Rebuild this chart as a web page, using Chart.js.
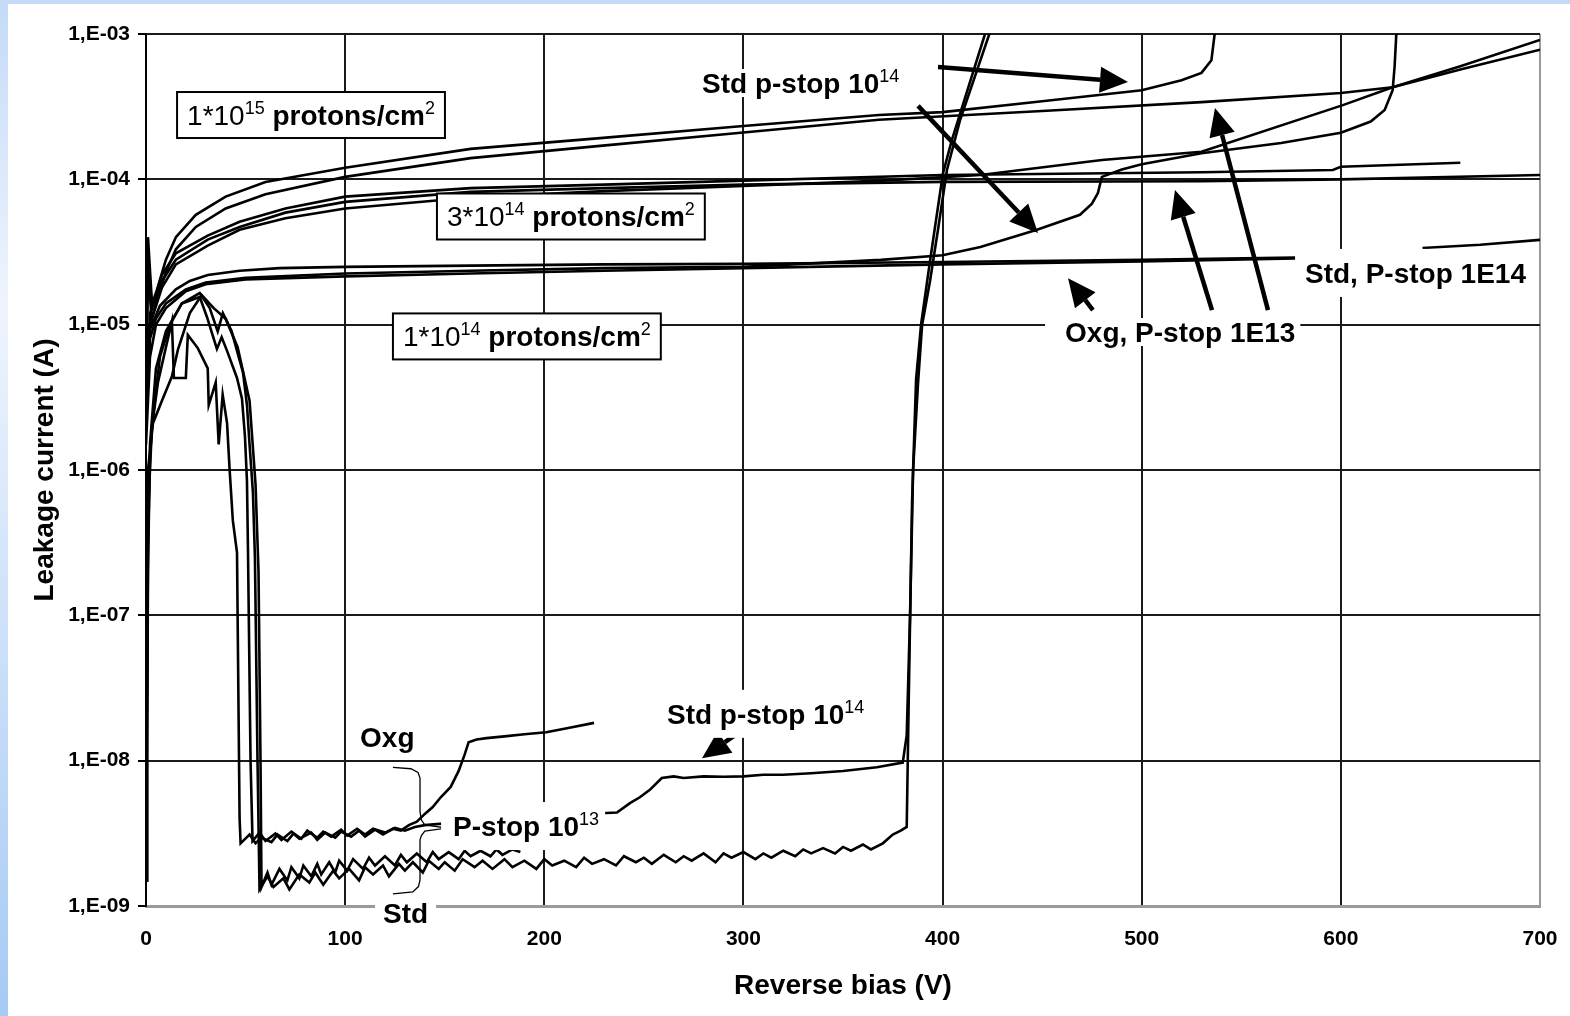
<!DOCTYPE html>
<html>
<head>
<meta charset="utf-8">
<script src="https://cdn.jsdelivr.net/npm/chart.js@4.4.0/dist/chart.umd.min.js"></script>
<style>
  html, body { margin: 0; padding: 0; background: #fff; }
  #wrap { width: 1570px; height: 1016px; }
</style>
</head>
<body>
<div id="wrap"><canvas id="ivChart" width="1570" height="1016"></canvas></div>
<script>
// leakage current vs reverse bias, points are [bias V, current A]

const decadeTicks = [1e-9, 1e-8, 1e-7, 1e-6, 1e-5, 1e-4, 1e-3];

// 1e15 protons/cm2
const f15std14 = [[0,5e-6],[1,4e-5],[3,1.4e-5],[5,1.65e-5],[10,2.8e-5],[15,4e-5],[25,5.7e-5],[40,7.6e-5],[60,9.6e-5],[100,1.2e-4],[163,1.62e-4],[228,1.92e-4],[300,2.33e-4],[368,2.77e-4],[400,2.9e-4],[450,3.45e-4],[500,4.1e-4],[520,4.8e-4],[530,5.4e-4],[535,6.6e-4],[537,1.1e-3]];
const f15other = [[0,3e-6],[2,1e-5],[5,1.4e-5],[10,2.3e-5],[15,3.3e-5],[25,4.7e-5],[40,6.3e-5],[60,7.9e-5],[100,1.04e-4],[163,1.4e-4],[228,1.7e-4],[300,2.1e-4],[368,2.57e-4],[450,2.95e-4],[530,3.4e-4],[600,3.93e-4],[626,4.3e-4],[660,5.7e-4],[700,7.8e-4]];

// 3e14 protons/cm2
const f3oxg = [[0,4e-6],[1,3e-5],[3,1.3e-5],[8,2.2e-5],[15,3.1e-5],[31,4.1e-5],[47,5.1e-5],[70,6.3e-5],[100,7.6e-5],[163,8.7e-5],[230,9.2e-5],[300,9.8e-5],[400,1.07e-4],[530,1.12e-4],[596,1.16e-4],[600,1.22e-4],[660,1.3e-4]];
const f3flat = [[0,2e-6],[2,1.2e-5],[8,2e-5],[15,2.8e-5],[31,3.85e-5],[47,4.7e-5],[70,5.9e-5],[100,7.0e-5],[163,8.2e-5],[230,8.7e-5],[300,9.2e-5],[400,9.6e-5],[530,9.7e-5],[600,1.0e-4],[700,1.07e-4]];
const f3rise = [[0,3e-6],[2,1e-5],[8,1.8e-5],[15,2.6e-5],[31,3.5e-5],[47,4.5e-5],[70,5.4e-5],[100,6.3e-5],[163,7.5e-5],[230,8.3e-5],[300,9.0e-5],[370,9.8e-5],[419,1.07e-4],[480,1.36e-4],[530,1.55e-4],[601,3.24e-4],[626,4.3e-4],[660,6.0e-4],[700,9.1e-4]];

// 1e14 protons/cm2
const f1oxgA = [[0,3e-6],[1,2.5e-5],[3,1e-5],[7,1.35e-5],[15,1.75e-5],[22,2.0e-5],[31,2.2e-5],[47,2.35e-5],[67,2.45e-5],[100,2.5e-5],[163,2.55e-5],[230,2.6e-5],[300,2.62e-5],[400,2.7e-5],[500,2.8e-5],[577,2.9e-5]];
const f1oxgB = [[0,1.5e-6],[2,6e-6],[5,1e-5],[10,1.3e-5],[20,1.7e-5],[30,1.9e-5],[50,2.05e-5],[100,2.15e-5],[163,2.25e-5],[230,2.35e-5],[300,2.45e-5],[400,2.6e-5],[500,2.72e-5],[577,2.85e-5]];
const f1std14 = [[0,2e-6],[2,8e-6],[5,1.1e-5],[10,1.4e-5],[20,1.75e-5],[30,1.95e-5],[50,2.1e-5],[100,2.25e-5],[163,2.35e-5],[230,2.45e-5],[300,2.5e-5],[369,2.79e-5],[400,3.0e-5],[419,3.42e-5],[447,4.48e-5],[469,5.7e-5],[475,6.8e-5],[478,8.05e-5],[480,1.04e-4],[490,1.17e-4],[500,1.27e-4],[530,1.51e-4],[570,1.78e-4],[600,2.09e-4],[615,2.5e-4],[622,3.0e-4],[626,4.1e-4],[627,6e-4],[628,1.1e-3]];
const f1stdTail = [[641,3.37e-5],[670,3.55e-5],[700,3.83e-5]];

// non irradiated
const oxgP13 = [[0,1.5e-9],[0.5,2e-8],[1,3e-7],[2,1.2e-6],[3,2e-6],[6,4e-6],[10,7e-6],[13,1.05e-5],[14,4.3e-6],[20,4.3e-6],[21,8.5e-6],[26,6.9e-6],[31,5e-6],[31.5,2.8e-6],[35,4e-6],[36.5,1.5e-6],[38.5,3.3e-6],[40.7,2.1e-6],[42,1e-6],[43.6,4.5e-7],[45.7,2.7e-7],[46.5,2e-8],[47,4e-9],[47.5,2.7e-9],
  [52,3.1e-9],[55,2.7e-9],[58,2.95e-9],[63,2.75e-9],[66,3.1e-9],[71,2.8e-9],[74,3.15e-9],[77,2.9e-9],[83,3.2e-9],[86,2.85e-9],[90,3.2e-9],[95,2.95e-9],[98,3.25e-9],[103,3.0e-9],[107,3.3e-9],[110,3.0e-9],[115,3.35e-9],[119,3.1e-9],[124,3.4e-9],[128,3.3e-9],[132,3.6e-9],[136,3.8e-9],
  [140,4.3e-9],[144,4.8e-9],[148,5.6e-9],[153,6.6e-9],[157,8.5e-9],[160,1.1e-8],[162,1.34e-8],[166,1.4e-8],[171,1.43e-8],[180,1.47e-8],[190,1.52e-8],[201,1.57e-8],[212,1.68e-8],[225,1.82e-8]];
const stdP14 = [[0,1.5e-9],[0.5,3e-8],[1,5e-7],[3,2e-6],[7,6e-6],[12,1e-5],[18,1.4e-5],[27,1.55e-5],[30.6,1.13e-5],[35.6,6.8e-6],[38,8.2e-6],[40.7,6.6e-6],[45.7,4.3e-6],[48.2,3.1e-6],[49.7,1.7e-6],[50.7,8.4e-7],[51.2,2.9e-7],[52.5,1e-8],[53.5,2.8e-9],
  [57,3.2e-9],[60,2.8e-9],[65,3.15e-9],[68,2.85e-9],[73,3.25e-9],[78,2.9e-9],[81,3.3e-9],[86,2.95e-9],[89,3.25e-9],[93,3.0e-9],[98,3.35e-9],[101,3.05e-9],[106,3.4e-9],[110,3.1e-9],[114,3.4e-9],[120,3.2e-9],[125,3.45e-9],[130,3.3e-9],[135,3.5e-9],[140,3.6e-9],
  [160,3.8e-9],[180,4.0e-9],[200,4.1e-9],[220,4.3e-9],[236.5,4.4e-9],[243,5.1e-9],[248,5.6e-9],[253,6.3e-9],[259,7.6e-9],[265,7.8e-9],[270,7.6e-9],[280,7.8e-9],[290,7.75e-9],[300,7.8e-9],[310,8.0e-9],[320,8.0e-9],[334,8.2e-9],[350,8.5e-9],[367,9.0e-9],[380,9.7e-9],
  [382,1.5e-8],[383.7,1.04e-7],[385.2,1e-6],[387.7,4e-6],[389.7,9.9e-6],[393.7,2.0e-5],[397.7,4.5e-5],[402.2,1.16e-4],[408.8,2.56e-4],[423.8,1.03e-3]];
const stdP13 = [[0,1.5e-9],[0.5,1e-8],[1,2e-7],[2,1.5e-6],[5,5e-6],[10,9e-6],[18,1.4e-5],[27,1.65e-5],[32,1.3e-5],[36,9e-6],[38.6,1.2e-5],[43,9e-6],[48.7,4.7e-6],[50.7,2.8e-6],[52,1.5e-6],[53.7,7e-7],[54.7,2.5e-7],[56,1e-8],[57,1.3e-9],
  [61,1.6e-9],[64,1.35e-9],[69,1.55e-9],[72,1.3e-9],[77,1.65e-9],[82,1.45e-9],[85,1.7e-9],[89,1.4e-9],[94,1.75e-9],[97,1.55e-9],[102,1.8e-9],[107,1.5e-9],[110,1.85e-9],[114,1.65e-9],[119,1.9e-9],[122,1.6e-9],[127,1.95e-9],[130,1.75e-9],[134,2.0e-9],[139,1.7e-9],[142,2.05e-9],[147,1.8e-9],[150,2.0e-9],
  [155,1.75e-9],[159,2.1e-9],[165,1.85e-9],[169,2.05e-9],[174,1.8e-9],[180,2.1e-9],[184,1.85e-9],[190,2.05e-9],[196,1.8e-9],[200,2.1e-9],[204,1.9e-9],[210,2.05e-9],[216,1.85e-9],[220,2.15e-9],[224,1.95e-9],[230,2.1e-9],[236,1.9e-9],[240,2.2e-9],[246,2.0e-9],[250,2.15e-9],
  [254,1.95e-9],[260,2.25e-9],[266,2.0e-9],[270,2.2e-9],[274,2.05e-9],[280,2.3e-9],[286,2.0e-9],[290,2.3e-9],[294,2.15e-9],[300,2.35e-9],[306,2.1e-9],[310,2.3e-9],[314,2.15e-9],[320,2.4e-9],[326,2.2e-9],[330,2.45e-9],[334,2.3e-9],[340,2.5e-9],[346,2.3e-9],[350,2.55e-9],
  [354,2.4e-9],[360,2.65e-9],[364,2.45e-9],[370,2.7e-9],[375,3.1e-9],[379,3.3e-9],[382,3.5e-9],[383,2.6e-8],[384.7,6.2e-7],[386.7,4.2e-6],[389.2,1e-5],[392.7,2.2e-5],[396,4.5e-5],[400.2,1.1e-4],[404.7,1.87e-4],[421.3,1e-3]];
const stdShort = [[0,1.5e-9],[1,1e-6],[3.5,2.1e-6],[8,3e-6],[13,4.4e-6],[16,6.7e-6],[22,1.2e-5],[28,1.6e-5],[34,1.3e-5],[40,1.1e-5],[46,7e-6],[52,3e-6],[55,8e-7],[56.5,2e-7],[57.5,1e-8],[58,1.35e-9],
  [61,1.7e-9],[63,1.4e-9],[67,1.8e-9],[71,1.5e-9],[73,1.85e-9],[77,1.55e-9],[79,1.9e-9],[83,1.6e-9],[86,1.95e-9],[88,1.65e-9],[92,2.0e-9],[95,1.7e-9],[97,2.05e-9],[101,1.75e-9],[104,2.1e-9],[109,1.8e-9],[112,2.15e-9],[115,1.9e-9],[120,2.2e-9],[125,1.9e-9],
  [128,2.25e-9],[131,2.0e-9],[136,2.3e-9],[141,2.0e-9],[144,2.35e-9],[147,2.1e-9],[152,2.35e-9],[157,2.1e-9],[160,2.4e-9],[163,2.2e-9],[168,2.4e-9],[173,2.2e-9],[176,2.45e-9],[179,2.25e-9],[184,2.45e-9],[188,2.35e-9]];

const curves = [f15std14, f15other, f3oxg, f3flat, f3rise, f1oxgA, f1oxgB, f1std14, f1stdTail, oxgP13, stdP14, stdP13, stdShort];

const FAM = '"Liberation Sans", Arial, sans-serif';
const B = t => ({ t, font: 'bold 28px ' + FAM });
const R = t => ({ t, font: '28px ' + FAM });
const S = t => ({ t, font: '18px ' + FAM, sup: true });

// text notes, anchored at left edge / vertical centre, in data units
const notes = [
  { v: 15.6, i: 2.77e-4, box: true, parts: [R('1*10'), S('15'), B(' protons/cm'), S('2')] },
  { v: 146.1, i: 5.55e-5, box: true, parts: [R('3*10'), S('14'), B(' protons/cm'), S('2')] },
  { v: 124.0, i: 8.3e-6, box: true, parts: [R('1*10'), S('14'), B(' protons/cm'), S('2')] },
  { v: 279.2, i: 4.6e-4, bg: [4, 4, 14], parts: [B('Std p-stop 10'), S('14')] },
  { v: 582.0, i: 2.27e-5, bg: [5, 2, 24], parts: [B('Std, P-stop 1E14')] },
  { v: 461.5, i: 8.9e-6, bg: [20, 5, 14], parts: [B('Oxg, P-stop 1E13')] },
  { v: 261.6, i: 2.1e-8, bg: [4, 4, 24], parts: [B('Std p-stop 10'), S('14')] },
  { v: 107.5, i: 1.46e-8, parts: [B('Oxg')] },
  { v: 154.2, i: 3.55e-9, bg: [12, 6, 24], parts: [B('P-stop 10'), S('13')] },
  { v: 119.0, i: 8.95e-10, bg: [8, 8, 16], parts: [B('Std')] }
];

// arrows: tail -> tip
const arrows = [
  [397.7, 5.93e-4, 493.1, 4.68e-4],
  [387.7, 3.2e-4, 447.9, 4.28e-5],
  [295.8, 1.5e-8, 279.2, 1.04e-8],
  [475.5, 1.26e-5, 463.0, 2.09e-5],
  [535.3, 1.26e-5, 516.7, 8.45e-5],
  [563.4, 1.26e-5, 536.8, 3.1e-4]
];

// brace joining Oxg / Std to the P-stop label
const brace = [[124,9.0e-9],[133,8.8e-9],[136.6,8.3e-9],[137.6,7.6e-9],[137.6,4.44e-9],[138.3,3.9e-9],[140,3.62e-9],[151.1,3.44e-9],
  [140,3.27e-9],[138.3,3.05e-9],[137.6,2.85e-9],[137.6,1.51e-9],[136.8,1.36e-9],[134,1.25e-9],[124,1.21e-9]];

function richWidth(ctx, parts) {
  let w = 0;
  parts.forEach(p => { ctx.font = p.font; w += ctx.measureText(p.t).width; });
  return w;
}
function drawRich(ctx, x, cy, parts) {
  const base = cy + 10;
  let cx = x;
  parts.forEach(p => {
    ctx.font = p.font;
    ctx.fillText(p.t, cx, p.sup ? base - 11 : base);
    cx += ctx.measureText(p.t).width;
  });
}

const backdrop = {
  id: 'backdrop',
  beforeDraw(chart) {
    const ctx = chart.ctx;
    ctx.save();
    ctx.fillStyle = '#fff';
    ctx.fillRect(0, 0, chart.width, chart.height);
    const g = ctx.createLinearGradient(0, 0, 0, chart.height);
    g.addColorStop(0, '#c4daf7');
    g.addColorStop(0.3, '#eef4fd');
    g.addColorStop(1, '#a6caf4');
    ctx.fillStyle = g;
    ctx.fillRect(0, 0, 8, chart.height);
    ctx.fillStyle = '#c4daf7';
    ctx.fillRect(0, 0, chart.width, 4);
    ctx.restore();
  }
};

const notesPlugin = {
  id: 'notes',
  afterDatasetsDraw(chart) {
    const ctx = chart.ctx;
    const xs = chart.scales.x, ys = chart.scales.y;
    const px = v => xs.getPixelForValue(v);
    const py = i => ys.getPixelForValue(i);
    ctx.save();

    // brace
    ctx.strokeStyle = '#000';
    ctx.lineWidth = 1.3;
    ctx.beginPath();
    brace.forEach((p, k) => k ? ctx.lineTo(px(p[0]), py(p[1])) : ctx.moveTo(px(p[0]), py(p[1])));
    ctx.stroke();

    // arrows
    arrows.forEach(a => {
      const x0 = px(a[0]), y0 = py(a[1]), x1 = px(a[2]), y1 = py(a[3]);
      const ang = Math.atan2(y1 - y0, x1 - x0);
      const hl = 28, hw = 13;
      const bx = x1 - hl * Math.cos(ang), by = y1 - hl * Math.sin(ang);
      ctx.strokeStyle = '#000';
      ctx.lineWidth = 4.5;
      ctx.beginPath();
      ctx.moveTo(x0, y0);
      ctx.lineTo(bx, by);
      ctx.stroke();
      ctx.fillStyle = '#000';
      ctx.beginPath();
      ctx.moveTo(x1, y1);
      ctx.lineTo(bx + hw * Math.sin(ang), by - hw * Math.cos(ang));
      ctx.lineTo(bx - hw * Math.sin(ang), by + hw * Math.cos(ang));
      ctx.closePath();
      ctx.fill();
    });

    // labels
    ctx.textBaseline = 'alphabetic';
    ctx.textAlign = 'left';
    notes.forEach(n => {
      const x = px(n.v), cy = py(n.i);
      const w = richWidth(ctx, n.parts);
      if (n.box) {
        ctx.fillStyle = '#fff';
        ctx.fillRect(x, cy - 23, w + 20, 46);
        ctx.strokeStyle = '#000';
        ctx.lineWidth = 2;
        ctx.strokeRect(x, cy - 23, w + 20, 46);
        ctx.fillStyle = '#000';
        drawRich(ctx, x + 10, cy, n.parts);
      } else {
        if (n.bg) {
          ctx.fillStyle = '#fff';
          ctx.fillRect(x - n.bg[0], cy - n.bg[2], w + n.bg[0] + n.bg[1], n.bg[2] * 2);
        }
        ctx.fillStyle = '#000';
        drawRich(ctx, x, cy, n.parts);
      }
    });
    ctx.restore();
  }
};

Chart.defaults.color = '#000';

new Chart(document.getElementById('ivChart'), {
  type: 'line',
  data: {
    datasets: curves.map(c => ({
      data: c.map(p => ({ x: p[0], y: p[1] })),
      borderColor: '#000',
      borderWidth: 2.6,
      pointRadius: 0,
      fill: false,
      tension: 0
    }))
  },
  options: {
    responsive: false,
    animation: false,
    devicePixelRatio: 1,
    layout: { padding: { left: 10, right: 30, top: 34, bottom: 10 } },
    plugins: { legend: { display: false }, tooltip: { enabled: false } },
    scales: {
      x: {
        type: 'linear',
        min: 0,
        max: 700,
        afterFit: s => { s.height = 100; },
        ticks: { stepSize: 100, padding: 0, font: { family: FAM, size: 21, weight: 'bold' } },
        grid: {
          drawTicks: true,
          tickLength: 21,
          tickColor: 'rgba(0,0,0,0)',
          lineWidth: 2,
          color: c => (c.tick && c.tick.value === 700) ? '#9a9a9a' : '#1a1a1a'
        },
        border: { color: '#9a9a9a', width: 3 },
        title: {
          display: true,
          text: 'Reverse bias (V)',
          font: { family: FAM, size: 28, weight: 'bold' },
          padding: { top: 0, bottom: 3 }
        }
      },
      y: {
        type: 'logarithmic',
        min: 1e-9,
        max: 1e-3,
        afterFit: s => { s.width = 136; },
        afterBuildTicks: s => { s.ticks = decadeTicks.map(v => ({ value: v })); },
        ticks: {
          padding: 8,
          font: { family: FAM, size: 21, weight: 'bold' },
          callback: v => '1,E-' + String(-Math.round(Math.log10(v))).padStart(2, '0')
        },
        grid: {
          tickLength: 8,
          lineWidth: 2,
          color: c => (c.tick && c.tick.value === 1e-9) ? '#9a9a9a' : '#1a1a1a',
          tickColor: '#000'
        },
        border: { color: '#000', width: 2 },
        title: {
          display: true,
          text: 'Leakage current (A)',
          font: { family: FAM, size: 28, weight: 'bold' },
          padding: { top: 18, bottom: 0 }
        }
      }
    }
  },
  plugins: [backdrop, notesPlugin]
});
</script>
</body>
</html>
